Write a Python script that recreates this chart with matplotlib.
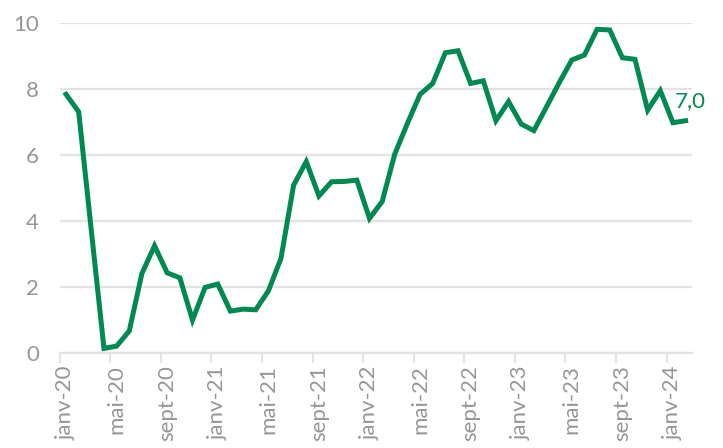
import matplotlib
matplotlib.use("Agg")
import matplotlib.pyplot as plt

# monthly values, janv-20 .. févr-24
values = [7.83, 7.30, 3.70, 0.13, 0.20, 0.66, 2.40, 3.24, 2.42, 2.27, 0.99, 1.98,
          2.08, 1.26, 1.32, 1.30, 1.87, 2.86, 5.08, 5.79, 4.75, 5.18, 5.19, 5.23,
          4.07, 4.58, 6.02, 6.95, 7.83, 8.16, 9.09, 9.15, 8.16, 8.24, 7.03, 7.61,
          6.93, 6.73, 7.45, 8.18, 8.87, 9.02, 9.80, 9.78, 8.94, 8.89, 7.35, 7.94,
          6.97, 7.03]
tick_labels = ["janv-20", "mai-20", "sept-20", "janv-21", "mai-21", "sept-21",
               "janv-22", "mai-22", "sept-22", "janv-23", "mai-23", "sept-23", "janv-24"]
last_label = "7,0"

green = "#008A52"
grey_text = "#969696"
grid_col = "#E3E3E3"

plt.rcParams['font.family'] = ['Lato', 'DejaVu Sans']

fig = plt.figure(figsize=(7.23, 4.48), dpi=100)
ax = fig.add_axes([0.0826, 0.2127, 0.8744, 0.7366])

x = list(range(len(values)))
ax.plot(x, values, color=green, linewidth=3.6, solid_joinstyle="miter", zorder=3)

ax.set_xlim(-0.5, len(values) - 0.5)
ax.set_ylim(0, 10)
ax.set_yticks([0, 2, 4, 6, 8, 10])
ax.yaxis.grid(True, color=grid_col, linewidth=1.6)
ax.set_axisbelow(True)
ax.tick_params(axis="y", length=0, labelsize=16, labelcolor=grey_text, pad=15)

# tick marks between categories, labels centred on categories
ax.set_xticks([i * 4 - 0.5 for i in range(len(tick_labels))])
ax.set_xticklabels([])
ax.set_xticks([i * 4 for i in range(len(tick_labels))], minor=True)
ax.set_xticklabels(tick_labels, minor=True, rotation=90)
ax.tick_params(axis="x", which="major", length=7, color=grid_col, width=1.5)
ax.tick_params(axis="x", which="minor", length=0, labelsize=16, labelcolor=grey_text, pad=9)

for s in ["top", "right", "left"]:
    ax.spines[s].set_visible(False)
ax.spines["bottom"].set_color(grid_col)
ax.spines["bottom"].set_linewidth(1.6)

ax.annotate(last_label, xy=(x[-1], values[-1]), xytext=(-11, 20),
            textcoords="offset pixels", ha="left", va="center",
            color=green, fontsize=16)

fig.savefig("out.png", dpi=100)
